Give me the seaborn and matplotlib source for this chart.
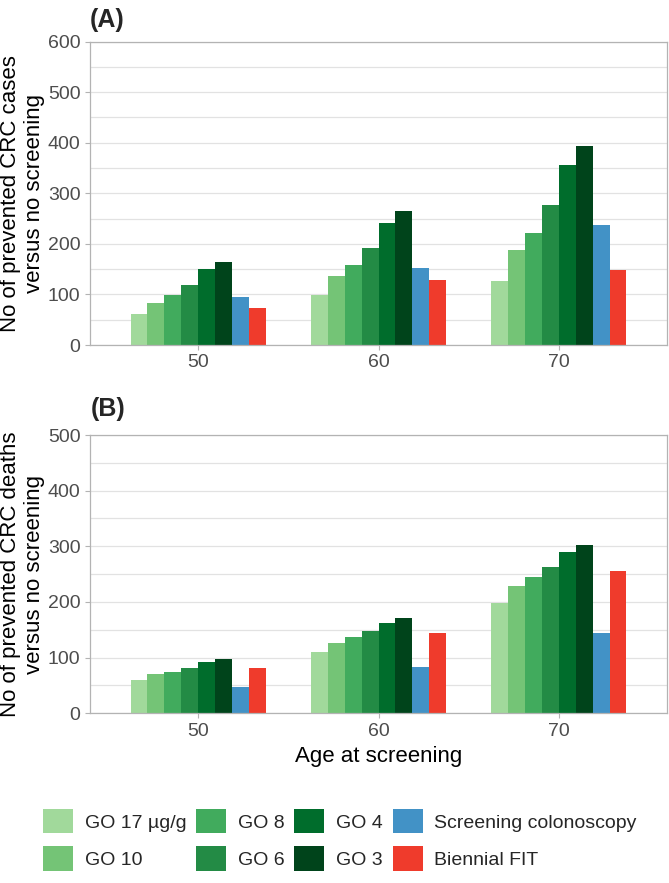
import matplotlib
matplotlib.use("Agg")
import matplotlib.pyplot as plt
import seaborn as sns
import pandas as pd
from matplotlib.patches import Patch

# ---------------- data ----------------
ages = ["50", "60", "70"]
strategies = ["GO 17 µg/g", "GO 10", "GO 8", "GO 6", "GO 4", "GO 3",
              "Screening colonoscopy", "Biennial FIT"]
colors = ["#a1d99b", "#74c476", "#41ab5d", "#238b45", "#006d2c", "#00441b",
          "#4292c6", "#ef3b2c"]

cases_50 = [61, 84, 98, 119, 150, 164, 95, 74]
cases_60 = [98, 137, 159, 192, 241, 264, 153, 128]
cases_70 = [126, 187, 222, 276, 356, 394, 237, 149]

deaths_50 = [59, 70, 75, 82, 93, 97, 48, 81]
deaths_60 = [110, 127, 137, 147, 163, 171, 83, 145]
deaths_70 = [199, 228, 244, 262, 289, 302, 144, 255]

ylabel_a = "No of prevented CRC cases\nversus no screening"
ylabel_b = "No of prevented CRC deaths\nversus no screening"
xlabel = "Age at screening"


def long_df(rows):
    recs = []
    for age, vals in zip(ages, rows):
        for s, v in zip(strategies, vals):
            recs.append({"age": age, "strategy": s, "value": v})
    return pd.DataFrame(recs)


df_a = long_df([cases_50, cases_60, cases_70])
df_b = long_df([deaths_50, deaths_60, deaths_70])

# ---------------- style ----------------
sns.set_theme(style="white")
plt.rcParams["font.family"] = ["Liberation Sans", "DejaVu Sans"]

W, H = 669, 883
fig = plt.figure(figsize=(W / 100, H / 100), dpi=100)
axA = fig.add_axes([90 / W, 1 - 345 / H, 577 / W, 303.5 / H])
axB = fig.add_axes([90 / W, 1 - 713.3 / H, 577 / W, 278.3 / H])

SP = "#b3b3b3"


def draw(ax, df, ymax):
    sns.barplot(data=df, x="age", y="value", hue="strategy", order=ages,
                hue_order=strategies, palette=colors, width=0.75,
                saturation=1, linewidth=0, errorbar=None, legend=False, ax=ax)
    ax.set_xlim(-0.6, 2.6)
    ax.set_ylim(0, ymax)
    ax.set_yticks(list(range(0, ymax + 1, 100)))
    ax.set_yticks(list(range(50, ymax, 100)), minor=True)
    ax.grid(False)
    ax.grid(axis="y", which="both", color="#e2e2e2", linewidth=0.9)
    ax.set_axisbelow(True)
    for s in ax.spines.values():
        s.set_visible(True)
        s.set_color(SP)
        s.set_linewidth(0.9)
    ax.tick_params(axis="both", which="major", length=3.6, width=0.8,
                   color=SP, labelcolor="#4d4d4d", labelsize=14, pad=3.2,
                   left=True, bottom=True)
    ax.tick_params(axis="y", which="minor", length=0)
    ax.set_xlabel("")


draw(axA, df_a, 600)
draw(axB, df_b, 500)

axA.set_ylabel(ylabel_a, fontsize=16, color="black", linespacing=1.2)
axB.set_ylabel(ylabel_b, fontsize=16, color="black", linespacing=1.2)
axA.yaxis.set_label_coords(-0.078, 0.5)
axB.yaxis.set_label_coords(-0.078, 0.5)

axB.set_xlabel(xlabel, fontsize=16, color="black")
axB.xaxis.set_label_coords(0.5, -0.118)

fig.text(90 / W, 1 - 20 / H, "(A)", ha="left", va="center",
         fontsize=18, fontweight="bold")
fig.text(91 / W, 1 - 409 / H, "(B)", ha="left", va="center",
         fontsize=18, fontweight="bold")

handles = [Patch(facecolor=c, edgecolor="none", label=l)
           for c, l in zip(colors, strategies)]
fig.legend(handles=handles, ncol=4, loc="upper left",
           bbox_to_anchor=(43 / W, 1 - 809 / H), frameon=False, fontsize=14,
           handlelength=1.55, handleheight=1.55, handletextpad=0.6,
           columnspacing=0.5, labelspacing=0.67, borderpad=0,
           borderaxespad=0)

fig.savefig("out.png", dpi=100)
